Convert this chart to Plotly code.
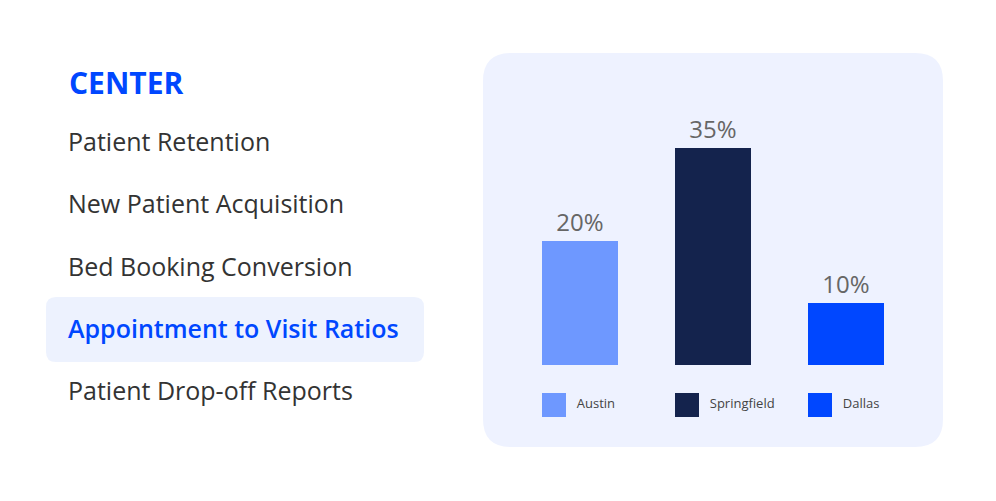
import plotly.graph_objects as go

# ---- data ----
cities = ["Austin", "Springfield", "Dallas"]
values = [20, 35, 10]
colors = ["#6E98FF", "#14234D", "#0047FF"]
menu_title = "CENTER"
menu_items = ["Patient Retention", "New Patient Acquisition", "Bed Booking Conversion",
              "Appointment to Visit Ratios", "Patient Drop-off Reports"]
active_item = 3

W, H = 996, 501
FONT = "Open Sans"

def px(x):
    return x / W

def py(y):
    return 1 - y / H

def rounded_path(x0, y0, x1, y1, r):
    rx, ry = r / W, r / H
    X0, X1 = px(x0), px(x1)
    Yt, Yb = py(y0), py(y1)
    return (f"M {X0+rx},{Yt} L {X1-rx},{Yt} Q {X1},{Yt} {X1},{Yt-ry} "
            f"L {X1},{Yb+ry} Q {X1},{Yb} {X1-rx},{Yb} L {X0+rx},{Yb} "
            f"Q {X0},{Yb} {X0},{Yb+ry} L {X0},{Yt-ry} Q {X0},{Yt} {X0+rx},{Yt} Z")

fig = go.Figure()

# bars
fig.add_trace(go.Bar(
    x=cities, y=values, marker=dict(color=colors, line=dict(width=0)),
    width=76 / 133,
    text=[f"{v}%" for v in values], textposition="outside",
    textfont=dict(family=FONT, size=24, color="#666666"),
    cliponaxis=False, showlegend=False, hoverinfo="skip",
    xaxis="x", yaxis="y",
))

# custom legend (squares + labels)
fig.add_trace(go.Scatter(
    x=cities, y=[0.5] * len(cities), mode="markers+text",
    marker=dict(symbol="square", size=24, color=colors, line=dict(width=0)),
    text=["  " + c for c in cities], textposition="middle right",
    textfont=dict(family=FONT, size=13, color="#444444"),
    showlegend=False, hoverinfo="skip", cliponaxis=False,
    xaxis="x2", yaxis="y2",
))

shift = 26 / 133
fig.update_layout(
    width=W, height=H,
    margin=dict(l=0, r=0, t=0, b=0),
    paper_bgcolor="white", plot_bgcolor="rgba(0,0,0,0)",
    xaxis=dict(domain=[px(513.5), px(912.5)], range=[-0.5, 2.5],
               showgrid=False, zeroline=False, showticklabels=False, showline=False),
    yaxis=dict(domain=[py(365), py(117)], range=[0, 40],
               showgrid=False, zeroline=False, showticklabels=False, showline=False),
    xaxis2=dict(domain=[px(513.5), px(912.5)], range=[-0.5 + shift, 2.5 + shift],
                anchor="y2", showgrid=False, zeroline=False, showticklabels=False,
                showline=False),
    yaxis2=dict(domain=[py(420), py(390)], range=[0, 1], anchor="x2",
                showgrid=False, zeroline=False, showticklabels=False, showline=False),
    shapes=[
        dict(type="path", xref="paper", yref="paper", layer="below",
             path=rounded_path(483, 53, 943, 447, 28),
             fillcolor="#EEF2FF", line=dict(width=0)),
        dict(type="path", xref="paper", yref="paper", layer="below",
             path=rounded_path(46, 297, 424, 362, 10),
             fillcolor="#EDF2FE", line=dict(width=0)),
    ],
)

ann = [dict(text=f"<b>{menu_title}</b>", x=px(67), y=py(82), xref="paper", yref="paper",
            xanchor="left", yanchor="middle", showarrow=False,
            font=dict(family=FONT, size=30, color="#0047FF"))]
ys = [141, 203, 266, 328, 390]
for i, (t, yy) in enumerate(zip(menu_items, ys)):
    active = i == active_item
    ann.append(dict(text=t, x=px(66), y=py(yy),
                    xref="paper", yref="paper", xanchor="left", yanchor="middle",
                    showarrow=False,
                    font=dict(family=FONT, size=25, weight=600 if active else 400,
                              color="#0047FF" if active else "#333333")))
fig.update_layout(annotations=ann)

fig.write_html("out.html", config={"displayModeBar": False},
               post_script="document.body.style.margin='0';")
